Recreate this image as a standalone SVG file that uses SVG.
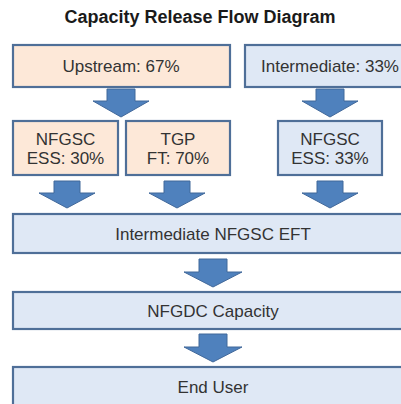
<svg xmlns="http://www.w3.org/2000/svg" width="401" height="404" viewBox="0 0 401 404">
<defs>
<style>
.title{font-family:"Liberation Sans",Arial,sans-serif;font-weight:bold;font-size:18px;fill:#1a1a1a;text-anchor:middle}
.lbl{font-family:"Liberation Sans",Arial,sans-serif;font-size:17px;fill:#333;text-anchor:middle}
.or{fill:#fde8d8;stroke:#4f6f98;stroke-width:2.2}
.bl{fill:#dfe8f5;stroke:#4f6f98;stroke-width:2.2}
.arr{fill:#4f81bd;stroke:#41689a;stroke-width:1}
</style>
</defs>
<rect width="401" height="404" fill="#fff"/>
<text class="title" x="200" y="23">Capacity Release Flow Diagram</text>

<g id="connectors">
<path class="arr" d="M107,89 H135 V101 H149 L121,117 L93,101 H107 Z"/>
<path class="arr" d="M316,89 H344 V101 H358 L330,117 L302,101 H316 Z"/>
<path class="arr" d="M54,181 H80 V193 H95 L67,208 L39,193 H54 Z"/>
<path class="arr" d="M164,181 H190 V193 H205 L177,208 L149,193 H164 Z"/>
<path class="arr" d="M317,181 H343 V193 H358 L330,208 L302,193 H317 Z"/>
<path class="arr" d="M199,259 H227 V272 H242 L213,287 L184,272 H199 Z"/>
<path class="arr" d="M199,334 H227 V347 H242 L213,362 L184,347 H199 Z"/>
</g>

<g id="upstream"><rect class="or" x="13" y="45" width="217" height="42"/><text class="lbl" x="121" y="72">Upstream: 67%</text></g>
<g id="intermediate"><rect class="bl" x="245" y="45" width="180" height="42"/><text class="lbl" x="330" y="72">Intermediate: 33%</text></g>
<g id="nfgsc-ess-30"><rect class="or" x="13" y="121" width="105" height="54"/><text class="lbl" x="65.5" y="145">NFGSC</text><text class="lbl" x="65.5" y="164">ESS: 30%</text></g>
<g id="tgp-ft-70"><rect class="or" x="126" y="121" width="104" height="54"/><text class="lbl" x="178" y="145">TGP</text><text class="lbl" x="178" y="164">FT: 70%</text></g>
<g id="nfgsc-ess-33"><rect class="bl" x="278" y="121" width="104" height="54"/><text class="lbl" x="330" y="145">NFGSC</text><text class="lbl" x="330" y="164">ESS: 33%</text></g>
<g id="intermediate-eft"><rect class="bl" x="13" y="214" width="420" height="39"/><text class="lbl" x="213" y="240">Intermediate NFGSC EFT</text></g>
<g id="nfgdc-capacity"><rect class="bl" x="13" y="292" width="420" height="37"/><text class="lbl" x="213" y="317">NFGDC Capacity</text></g>
<g id="end-user"><rect class="bl" x="13" y="367" width="420" height="50"/><text class="lbl" x="213" y="393">End User</text></g>
</svg>
